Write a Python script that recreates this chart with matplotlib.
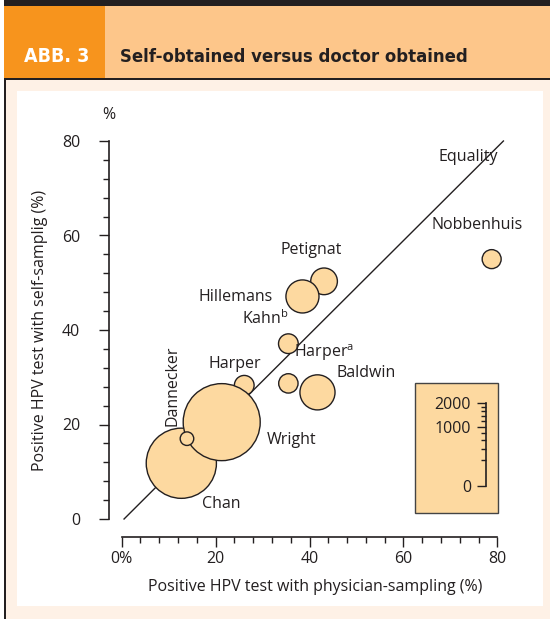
import matplotlib
matplotlib.use("Agg")
import matplotlib.pyplot as plt
from matplotlib.patches import Rectangle
from matplotlib.ticker import FixedLocator, MultipleLocator
import numpy as np

plt.rcParams['font.family'] = ['Open Sans', 'DejaVu Sans']
plt.rcParams['mathtext.fontset'] = 'custom'
plt.rcParams['mathtext.rm'] = 'Open Sans'

# data: studies, physician-sampled %, self-sampled %, number of women
studies = ["Chan", "Harper", "Wright", "Dannecker", "Petignat", "Hillemans",
           "Kahn", "Harper_a", "Baldwin", "Nobbenhuis"]
physician = [12.7, 26.1, 21.3, 13.9, 43.1, 38.5, 35.5, 35.5, 41.7, 78.8]
self_samp = [11.8, 28.3, 20.5, 17.0, 50.3, 47.1, 37.1, 28.7, 26.8, 55.0]
n_women = [1420, 112, 1710, 53, 205, 315, 112, 108, 355, 104]

x_ticks = [0, 20, 40, 60, 80]
x_ticklabels = ["0%", "20", "40", "60", "80"]
y_ticks = [0, 20, 40, 60, 80]
size_ticks = [0, 1000, 2000]

# label text and where it sits (data coords)
labels = [
    ("Equality", 73.8, 76.7, "center", 0),
    ("Nobbenhuis", 75.7, 62.3, "center", 0),
    ("Petignat", 40.3, 57.0, "center", 0),
    ("Hillemans", 24.3, 47.0, "center", 0),
    ("Kahn$^\\mathrm{b}$", 25.7, 42.5, "left", 0),
    ("Harper$^\\mathrm{a}$", 36.6, 35.1, "left", 0),
    ("Baldwin", 45.7, 30.9, "left", 0),
    ("Harper", 24.0, 32.8, "center", 0),
    ("Dannecker", 10.9, 28.2, "center", 90),
    ("Wright", 30.9, 16.7, "left", 0),
    ("Chan", 17.2, 3.2, "left", 0),
]

W, H = 550, 619
dark = "#231F20"
bubble = "#FDD9A0"
fs = 11.5

fig = plt.figure(figsize=(W / 100, H / 100), dpi=100)


def box(x0, y0, x1, y1, z=-2, **kw):
    # pixel box (from top-left) -> figure rectangle
    r = Rectangle((x0 / W, 1 - y1 / H), (x1 - x0) / W, (y1 - y0) / H,
                  transform=fig.transFigure, zorder=z, **kw)
    fig.patches.append(r)
    return r


# frame and header
box(5, 79, 550, 619, facecolor="#FEF1E6", edgecolor="none")
box(17.5, 91, 543, 606, facecolor="white", edgecolor="none")
box(4, 0, 550, 6, facecolor=dark, edgecolor="none")
box(4, 6, 105, 79, facecolor="#F7941D", edgecolor="none")
box(105, 6, 550, 79, facecolor="#FDC68A", edgecolor="none")
box(4, 78, 550, 80, facecolor=dark, edgecolor="none")
box(3.5, 79, 5.5, 619, facecolor=dark, edgecolor="none")

head_font = dict(family="DejaVu Sans", fontstretch="condensed",
                 fontweight="bold")
fig.text(57 / W, 1 - 57 / H, "ABB. 3", color="white", ha="center",
         va="center", fontsize=14, **head_font)
fig.text(120 / W, 1 - 57 / H, "Self-obtained versus doctor obtained",
         color=dark, ha="left", va="center", fontsize=13.2, **head_font)

# size legend box and axis (sqrt scale)
box(414.7, 383.3, 498, 512.7, z=-1, facecolor=bubble, edgecolor="#444444",
    linewidth=1)
lax = fig.add_axes([485.7 / W, 1 - 486 / H, 8 / W, 83.3 / H])
lax.set_yscale("function", functions=(np.sqrt, np.square))
lax.set_ylim(0, 2000)
lax.patch.set_visible(False)
for s in ["top", "right", "bottom"]:
    lax.spines[s].set_visible(False)
lax.spines["left"].set_color(dark)
lax.spines["left"].set_linewidth(1.2)
lax.set_xticks([])
lax.yaxis.set_major_locator(FixedLocator(size_ticks))
lax.yaxis.set_minor_locator(FixedLocator(np.arange(200, 2000, 200)))
lax.yaxis.set_minor_formatter(plt.NullFormatter())
lax.tick_params(axis="y", which="major", length=6.5, width=1, color=dark,
                labelsize=fs, labelcolor=dark, pad=4)
lax.tick_params(axis="y", which="minor", length=3.5, width=1, color=dark)

# main axes
ax = fig.add_axes([121.7 / W, 1 - 519 / H, 375.6 / W, 378 / H])
ax.set_xlim(0, 80)
ax.set_ylim(0, 80)
ax.patch.set_visible(False)

# bubble size from the legend scale: pixels per sqrt(n)
px_per_sqrt = 83.3 / np.sqrt(2000)
sizes = [(px_per_sqrt * np.sqrt(n) * 72 / 100) ** 2 for n in n_women]

ax.plot([0.5, 81.3], [0, 80], color=dark, lw=1, zorder=1, clip_on=False)
ax.scatter(physician, self_samp, s=sizes, facecolor=bubble, edgecolor=dark,
           linewidths=1, zorder=2, clip_on=False)

for txt, lx, ly, ha, rot in labels:
    ax.text(lx, ly, txt, ha=ha, va="center", rotation=rot, fontsize=fs,
            color=dark, zorder=3)

for s in ["top", "right"]:
    ax.spines[s].set_visible(False)
ax.spines["left"].set_position(("outward", 9))
ax.spines["bottom"].set_position(("outward", 13))
ax.spines["left"].set_bounds(0, 80)
ax.spines["bottom"].set_bounds(0, 80)
for s in ["left", "bottom"]:
    ax.spines[s].set_color(dark)
    ax.spines[s].set_linewidth(1.2)

ax.set_xticks(x_ticks)
ax.set_xticklabels(x_ticklabels)
ax.set_yticks(y_ticks)
ax.xaxis.set_minor_locator(MultipleLocator(4))
ax.yaxis.set_minor_locator(MultipleLocator(4))
ax.tick_params(which="major", length=7, width=1, color=dark, labelsize=fs,
               labelcolor=dark)
ax.tick_params(which="minor", length=4, width=1, color=dark)
ax.tick_params(axis="y", which="major", pad=14)
ax.tick_params(axis="x", which="major", pad=3)

ax.set_xlabel("Positive HPV test with physician-sampling (%)", fontsize=fs,
              color=dark, labelpad=9)
ax.xaxis.label.set_x(0.515)
ax.set_ylabel("Positive HPV test with self-samplig (%)", fontsize=fs,
              color=dark, labelpad=10)
ax.text(-2.8, 85.5, "%", fontsize=fs, color=dark, ha="center", va="center")

fig.savefig("out.png", dpi=100)
